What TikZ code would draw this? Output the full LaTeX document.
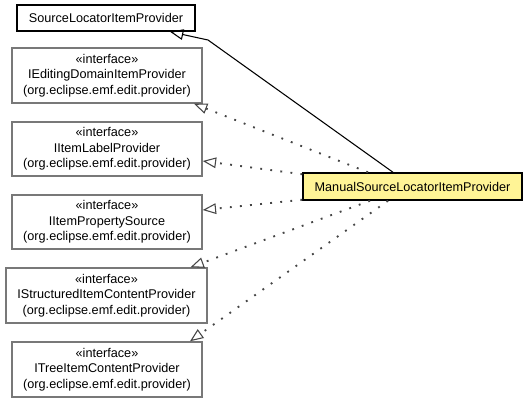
\documentclass[tikz,border=0pt]{standalone}
\usepackage{fontspec}
\setmainfont{Liberation Sans}
\usetikzlibrary{arrows.meta,calc}
\definecolor{noteyellow}{RGB}{255,244,150}
\definecolor{boxgray}{RGB}{120,120,120}
\definecolor{dotgray}{RGB}{70,70,70}

\begin{document}
\begin{tikzpicture}[x=0.75pt,y=-0.75pt,
    class node/.style={draw=black,line width=1.1pt,rectangle,inner sep=0pt,font=\fontsize{9.5}{11.6}\selectfont,align=center},
    iface node/.style={draw=boxgray,line width=1.1pt,rectangle,inner sep=0pt,font=\fontsize{9.5}{11.6}\selectfont,align=center},
    extends/.style={draw=black,line width=0.8pt,-{Triangle[open,length=10pt,width=8pt]}},
    implements/.style={draw=dotgray,line width=1.4pt,dash pattern=on 1.4pt off 6.2pt,-{Triangle[open,length=10pt,width=8pt,line width=0.8pt]}}]

            \useasboundingbox (0,0) rectangle (528,401);

            \node[class node, minimum width=178*0.75pt, minimum height=26*0.75pt]  (src) at (106,18) {SourceLocatorItemProvider};
            \node[iface node, minimum width=190*0.75pt, minimum height=55*0.75pt]  (ied) at (107,75.5) {«interface»\\IEditingDomainItemProvider\\(org.eclipse.emf.edit.provider)};
            \node[iface node, minimum width=190*0.75pt, minimum height=54*0.75pt]  (ilp) at (107,149) {«interface»\\IItemLabelProvider\\(org.eclipse.emf.edit.provider)};
            \node[iface node, minimum width=190*0.75pt, minimum height=54*0.75pt]  (ips) at (107,222) {«interface»\\IItemPropertySource\\(org.eclipse.emf.edit.provider)};
            \node[iface node, minimum width=201*0.75pt, minimum height=55*0.75pt]  (isc) at (106.5,295.5) {«interface»\\IStructuredItemContentProvider\\(org.eclipse.emf.edit.provider)};
            \node[iface node, minimum width=190*0.75pt, minimum height=55*0.75pt]  (iti) at (107,369.5) {«interface»\\ITreeItemContentProvider\\(org.eclipse.emf.edit.provider)};

            \node[class node, fill=noteyellow, minimum width=219*0.75pt, minimum height=27*0.75pt]  (man) at (412.5,186.5) {ManualSourceLocatorItemProvider};

            \coordinate (bend) at (208,40);

            \draw[extends] ($(man.north)+(-19.5,0)$) -- (bend) -- ($(src.south)+(64,0)$);

            \path
                ($(man.north)+(-44.5,0)$) edge[implements] ($(ied.south)+(87,0)$)
                ($(man.north west)+(0,2)$) edge[implements] ($(ilp.east)+(0,12)$)
                ($(man.south west)+(0,-1)$) edge[implements] ($(ips.east)+(0,-12)$)
                ($(man.south)+(-42.5,0)$) edge[implements] ($(isc.north)+(84,0)$)
                ($(man.south)+(-24.5,0)$) edge[implements] ($(iti.north)+(83,0)$)
            ;
        \end{tikzpicture}
\end{document}
